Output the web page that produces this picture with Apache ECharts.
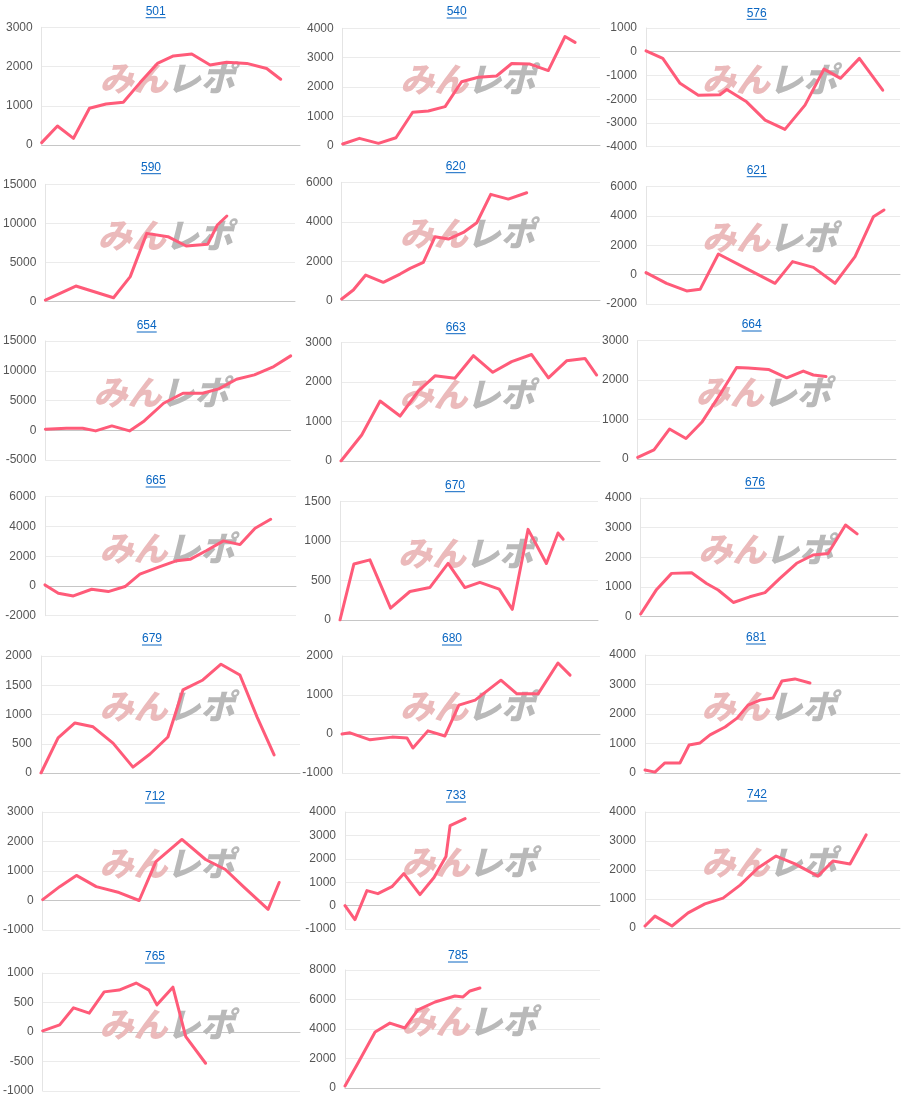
<!DOCTYPE html>
<html><head><meta charset="utf-8">
<script src="https://cdn.jsdelivr.net/npm/echarts@6/dist/echarts.min.js"></script>
<style>html,body{margin:0;padding:0;background:#fff}#c{width:903px;height:1099px}</style>
</head><body><div id="c"></div><script>
// ---- data ----
const titles = ['501','540','576','590','620','621','654','663','664','665','670','676','679','680','681','712','733','742','765','785'];

const t501=[0,6.1,12.3,18.5,24.9,31.6,38.1,44.8,51.0,58.1,65.2,71.6,79.4,87.1,92.5];
const v501=[60,485,170,935,1045,1090,1590,2080,2270,2320,2040,2110,2080,1950,1675];
const t540=[0,6.5,13.9,20.7,27.2,33.3,39.8,46.2,52.7,59.8,65.7,72.8,79.9,86.4,90.3];
const v540=[57,250,80,270,1140,1180,1330,2180,2330,2375,2800,2780,2560,3720,3520];
const t576=[0,6.6,13.4,20.6,29.1,31.8,39.6,46.9,54.7,62.6,70.1,76.6,84.0,93.2];
const v576=[40,-280,-1330,-1830,-1810,-1590,-2110,-2880,-3270,-2250,-730,-1120,-280,-1620];
const t590=[0,12.2,27.3,34.0,40.6,49.1,56.4,65.0,68.9,72.7];
const v590=[210,2000,510,3200,8730,8310,7120,7330,9800,10950];
const t620=[0,4.5,9.3,16.1,22.6,26.5,31.6,36.1,41.3,47.1,52.3,57.7,64.5,71.6];
const v620=[85,540,1300,930,1350,1640,1940,3240,3125,3460,3950,5390,5150,5470];
const t621=[0,8.1,16.0,21.3,28.5,39.6,50.8,57.7,65.9,74.4,82.3,89.5,93.7];
const v621=[140,-590,-1110,-1000,1410,410,-590,890,500,-590,1230,3950,4410];
const t654=[0,8.6,15.2,20.5,27.1,34.3,40.3,48.2,56.1,64.1,70.7,77.9,85.2,93.1,100];
const v654=[170,340,340,-110,730,-110,1570,4540,6220,6220,6950,8570,9300,10700,12500];
const t663=[0,8.0,15.1,22.8,29.9,36.3,44.0,51.1,58.6,65.9,73.6,80.1,87.1,94.2,98.7];
const v663=[0,660,1520,1140,1775,2160,2100,2670,2250,2520,2700,2110,2540,2600,2180];
const t664=[0,6.3,12.3,18.7,24.8,31.9,38.3,42.8,50.6,57.7,64.1,68.0,72.9];
const v664=[40,230,760,520,930,1640,2320,2310,2270,2060,2230,2130,2090];
const t665=[0,5.3,11.3,18.6,25.2,31.9,37.8,45.8,52.5,57.8,64.4,71.1,77.7,83.7,89.9];
const v665=[70,-490,-670,-220,-380,-40,790,1300,1700,1790,2380,3030,2780,3880,4480];
const t670=[0,5.4,11.6,19.6,27.1,34.8,41.9,48.4,54.2,61.7,66.8,72.9,80.0,84.5,86.5];
const v670=[0,708,760,150,360,410,715,410,475,390,135,1145,715,1100,1020];
const t676=[0,6.2,12.0,19.8,25.6,30.1,36.0,42.4,48.3,54.1,60.6,67.0,72.8,79.6,84.1];
const v676=[90,920,1460,1480,1120,900,480,670,810,1290,1800,2080,2130,3090,2790];
const t679=[0,6.6,13.1,20.1,27.8,35.5,42.1,49.0,54.8,62.5,69.5,76.8,83.4,90.0];
const v679=[0,600,855,790,510,100,325,615,1420,1590,1860,1675,960,310];
const t680=[0,3.1,10.9,19.4,25.2,27.5,33.3,39.9,45.3,51.6,61.6,67.8,76.0,83.7,88.4];
const v680=[0,30,-150,-80,-100,-360,80,-50,740,870,1380,1030,1030,1820,1510];
const t681=[0,3.9,7.8,13.7,17.3,21.6,25.5,31.4,36.1,40.4,45.1,50.2,53.7,58.8,64.7];
const v681=[100,30,340,340,950,1020,1290,1560,1860,2300,2470,2540,3120,3190,3050];
const t712=[0,6.6,13.1,20.8,29.7,37.5,44.0,54.1,63.3,71.0,78.0,87.6,91.9];
const v712=[30,470,850,470,270,0,1320,2070,1390,1050,470,-300,610];
const t733=[0,3.9,8.6,12.9,18.4,23.1,29.4,34.9,39.6,41.2,47.1];
const v733=[0,-600,640,510,810,1370,470,1200,2100,3420,3720];
const t742=[0,3.9,10.6,16.9,23.5,30.6,37.3,44.3,51.4,58.8,67.8,73.7,80.4,86.7];
const v742=[70,410,70,520,830,1030,1480,2070,2480,2210,1790,2310,2210,3210];
const t765=[0,6.6,12.0,18.1,23.9,29.7,36.3,41.3,44.4,50.6,55.6,63.3];
const v765=[20,120,410,320,680,710,830,710,460,760,-80,-530];
const t785=[0,5.1,11.8,17.6,23.5,28.6,35.3,43.1,46.3,49.0,52.9];
const v785=[140,1700,3800,4400,4070,5300,5830,6240,6170,6580,6780];

const tSeries=[t501,t540,t576,t590,t620,t621,t654,t663,t664,t665,t670,t676,t679,t680,t681,t712,t733,t742,t765,t785];
const vSeries=[v501,v540,v576,v590,v620,v621,v654,v663,v664,v665,v670,v676,v679,v680,v681,v712,v733,v742,v765,v785];

// y-axis tick ranges
const yMin =[0,0,-4000,0,0,-2000,-5000,0,0,-2000,0,0,0,-1000,0,-1000,-1000,0,-1000,0];
const yMax =[3000,4000,1000,15000,6000,6000,15000,3000,3000,6000,1500,4000,2000,2000,4000,3000,4000,4000,1000,8000];
const yStep=[1000,1000,1000,5000,2000,2000,5000,1000,1000,2000,500,1000,500,1000,1000,1000,1000,1000,500,2000];

// ---- layout (plot box: left, right, top, bottom, title x, title y) ----
const boxes=[
 [41.7,300,27.3,145,155.7,11.7],
 [342.7,600,28.3,145.7,456.7,12],
 [646,900,28,146.7,756.7,13.3],
 [42.7,295,184.3,301.7,151,167.7],
 [341.7,600,182.3,300.7,455.7,166.7],
 [646,900,186.7,304,756.7,170.7],
 [38.3,290.7,341,460,146.7,326],
 [341,600,342.7,461,455.7,327.7],
 [637.7,896,340.7,459,751.7,325],
 [45,296,496.7,615.7,155.7,481],
 [340,598,501.3,620,455,485.7],
 [640.7,898,498,616.7,755,482.3],
 [41,300,656,773,152,639],
 [342,600,656,773,452,639],
 [645,900,655,773,756,638],
 [41,300,812,930,155,797],
 [345,600,812,929,456,796],
 [645,900,812,928,757,795],
 [41,300,973,1091,155,957],
 [345,600,970,1088,458,956]
];

const FONT='"Liberation Sans", Arial, sans-serif';
const cvs=document.createElement('canvas').getContext('2d');
cvs.font='12px '+FONT;

const grid=[],xAxis=[],yAxis=[],series=[],graphic=[];
boxes.forEach((b,i)=>{
  const [L,R,T,B,tx,ty]=b;
  grid.push({left:L,top:T,width:R-L,height:B-T});
  xAxis.push({type:'value',gridIndex:i,min:0,max:100,
    axisLabel:{show:false},axisTick:{show:false},splitLine:{show:false},
    axisLine:{show:true,onZero:true,lineStyle:{color:'#c6c6c6',width:1}}});
  yAxis.push({type:'value',gridIndex:i,min:yMin[i],max:yMax[i],interval:yStep[i],
    axisLabel:{color:'#555',fontSize:12,fontFamily:FONT,margin:9,formatter:v=>String(v)},
    axisTick:{show:false},
    axisLine:{show:true,onZero:true,lineStyle:{color:'#e4e4e4'}},
    splitLine:{lineStyle:{color:'#ebebeb'}}});
  series.push({type:'line',xAxisIndex:i,yAxisIndex:i,
    data:tSeries[i].map((t,k)=>[t,vSeries[i][k]]),
    showSymbol:false,symbol:'none',z:5,
    lineStyle:{color:'#ff5b79',width:3,join:'round',cap:'round'}});
  // title with underline
  const w=cvs.measureText(titles[i]).width;
  graphic.push({type:'text',z:10,style:{text:titles[i],x:tx,y:ty,align:'center',verticalAlign:'middle',
    fill:'#0a66c2',font:'12px '+FONT}});
  graphic.push({type:'line',z:10,shape:{x1:tx-w/2,y1:ty+6,x2:tx+w/2,y2:ty+6},style:{stroke:'#0a66c2',lineWidth:1}});
  // watermark
  const cx=(L+R)/2, cy=(T+B)/2-8;
  graphic.push({type:'text',z:1,style:{text:'みん',x:cx-3,y:cy,align:'right',verticalAlign:'middle',
    fill:'#ebbabb',font:'italic 900 34px "Noto Sans CJK JP", sans-serif'}});
  graphic.push({type:'text',z:1,style:{text:'レポ',x:cx-4,y:cy,align:'left',verticalAlign:'middle',
    fill:'#b9b9b9',font:'italic 900 34px "Noto Sans CJK JP", sans-serif'}});
});

const chart=echarts.init(document.getElementById('c'),null,{renderer:'canvas'});
chart.setOption({animation:false,backgroundColor:'#fff',grid,xAxis,yAxis,series,graphic});
</script></body></html>
